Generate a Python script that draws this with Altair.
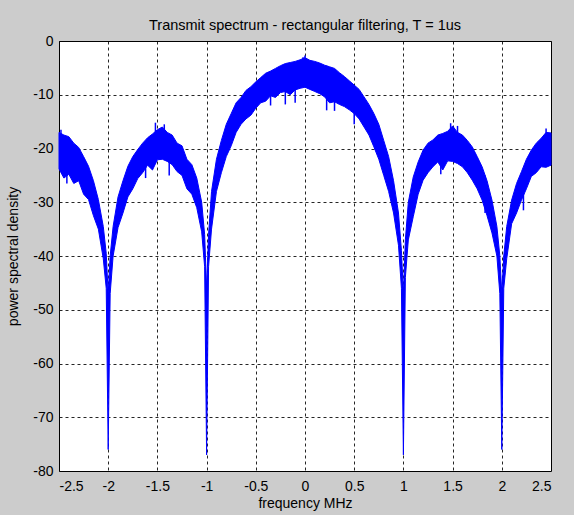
import altair as alt
import pandas as pd

# Envelope of the noisy spectrum (MHz, dB)
freq = [-2.50, -2.45, -2.40, -2.35, -2.30, -2.25, -2.20, -2.15, -2.10, -2.05, -2.02, -2.00,
        -1.98, -1.95, -1.90, -1.85, -1.80, -1.75, -1.70, -1.65, -1.60, -1.55, -1.50, -1.45,
        -1.40, -1.35, -1.30, -1.25, -1.20, -1.15, -1.10, -1.05, -1.02, -1.00,
        -0.98, -0.95, -0.90, -0.85, -0.80, -0.75, -0.70, -0.65, -0.60, -0.55, -0.50, -0.45,
        -0.40, -0.35, -0.30, -0.25, -0.20, -0.15, -0.10, -0.05, 0.00,
        0.05, 0.10, 0.15, 0.20, 0.25, 0.30, 0.35, 0.40, 0.45, 0.50, 0.55, 0.60, 0.65,
        0.70, 0.75, 0.80, 0.85, 0.90, 0.95, 0.98, 1.00,
        1.02, 1.05, 1.10, 1.15, 1.20, 1.25, 1.30, 1.35, 1.40, 1.45, 1.50, 1.55, 1.60,
        1.65, 1.70, 1.75, 1.80, 1.85, 1.90, 1.95, 1.98, 2.00,
        2.02, 2.05, 2.10, 2.15, 2.20, 2.25, 2.30, 2.35, 2.40, 2.45, 2.50]

upper = [-17.0, -17.5, -17.8, -19.0, -19.8, -21.5, -23.3, -26.0, -29.5, -34.5, -39.5, -47.0,
         -40.0, -34.5, -29.0, -26.0, -23.3, -21.5, -20.2, -19.0, -18.0, -17.3, -16.5, -16.0,
         -17.0, -17.5, -19.0, -19.5, -22.0, -23.0, -25.5, -30.0, -36.0, -46.0,
         -36.0, -28.0, -22.0, -18.5, -15.5, -13.5, -11.5, -10.5, -9.2, -8.5, -7.6, -6.8,
         -6.0, -5.6, -5.1, -4.6, -4.2, -4.0, -3.8, -3.5, -3.1,
         -3.6, -3.8, -4.1, -4.5, -4.8, -5.1, -5.9, -6.6, -7.4, -8.2, -9.0, -10.4, -11.8,
         -13.5, -15.5, -18.5, -21.5, -26.0, -32.0, -39.0, -47.0,
         -37.0, -30.0, -25.3, -22.5, -20.3, -19.0, -18.4, -17.5, -17.2, -16.8, -15.8, -17.0, -17.5,
         -18.5, -19.7, -21.5, -23.4, -26.0, -29.6, -34.5, -40.0, -47.0,
         -40.0, -34.5, -29.6, -26.5, -24.3, -22.0, -20.3, -19.0, -18.1, -17.0, -17.1]

lower = [-23.8, -25.5, -24.8, -26.5, -26.0, -28.5, -29.5, -32.5, -35.0, -40.5, -46.0, -76.0,
         -47.0, -40.0, -34.7, -32.0, -29.0, -27.5, -25.6, -24.5, -23.1, -24.0, -22.1, -22.0,
         -22.4, -23.0, -24.3, -25.0, -27.5, -28.5, -31.0, -35.5, -42.0, -77.0,
         -42.0, -35.0, -28.0, -24.5, -21.5, -19.5, -17.0, -15.5, -14.5, -13.8, -12.5, -11.5,
         -11.2, -10.2, -10.5, -9.6, -9.4, -10.0, -9.1, -8.8, -8.6,
         -9.0, -9.4, -9.8, -10.4, -11.5, -11.3, -11.8, -12.2, -12.8, -13.5, -14.5, -16.0, -17.5,
         -19.7, -22.0, -25.0, -28.0, -32.0, -38.0, -46.0, -77.0,
         -44.0, -37.0, -32.7, -28.5, -25.9, -24.5, -23.4, -22.5, -24.0, -22.3, -22.4, -22.8, -23.4,
         -24.5, -25.9, -27.5, -29.6, -32.5, -35.7, -40.0, -47.0, -76.0,
         -46.0, -40.5, -34.0, -32.0, -29.6, -27.5, -25.2, -24.5, -23.4, -23.5, -23.1]

# Prominent noise spikes
spike_freq = [-2.48, -2.42, -1.62, -1.52, -1.43, -1.38, -0.35, -0.20, -0.10, -0.02, 0.00,
              0.22, 0.30, 0.50, 1.38, 1.48, 1.55, 1.83, 2.22, 2.45]
spike_top = [-16.5, -18.5, -19.0, -15.2, -15.5, -18.5, -6.0, -4.5, -4.0, -3.0, -2.7,
             -4.6, -5.2, -8.5, -17.5, -15.3, -15.8, -25.0, -24.5, -16.3]
spike_bottom = [-20.0, -26.5, -25.5, -19.0, -19.0, -25.0, -12.0, -11.8, -11.5, -7.0, -6.0,
                -12.9, -13.0, -15.5, -24.8, -19.0, -19.5, -32.0, -31.5, -20.0]

x_ticks = [-2.5, -2, -1.5, -1, -0.5, 0, 0.5, 1, 1.5, 2, 2.5]
y_ticks = [0, -10, -20, -30, -40, -50, -60, -70, -80]

band = pd.DataFrame({"f": freq, "upper": upper, "lower": lower})
spikes = pd.DataFrame({"f": spike_freq, "top": spike_top, "bottom": spike_bottom})

BLUE = "#0000ff"

x_enc = alt.X("f:Q", scale=alt.Scale(domain=[-2.5, 2.5], nice=False, zero=False),
              axis=alt.Axis(values=x_ticks, title="frequency MHz", labelExpr="datum.value + ''",
                            grid=True, ticks=False, domain=False, labelPadding=8,
                            titlePadding=3))
y_scale = alt.Scale(domain=[-80, 0], nice=False, zero=False)
y_axis = alt.Axis(values=y_ticks, title="power spectral density", labelExpr="datum.value + ''",
                  grid=True, ticks=False, domain=False, labelPadding=6, titlePadding=12)

area = alt.Chart(band).mark_area(color=BLUE, stroke=BLUE, strokeWidth=1, opacity=1,
                                 interpolate="linear").encode(
    x=x_enc,
    y=alt.Y("lower:Q", scale=y_scale, axis=y_axis),
    y2="upper:Q",
)

spk = alt.Chart(spikes).mark_rule(color=BLUE, strokeWidth=1.5).encode(
    x="f:Q",
    y="top:Q",
    y2="bottom:Q",
)

chart = alt.layer(area, spk).properties(
    width=492,
    height=430,
    autosize="none",
    padding={"left": 59, "top": 41, "right": 23, "bottom": 44},
    title=alt.TitleParams("Transmit spectrum - rectangular filtering, T = 1us",
                          fontSize=14.5, fontWeight="normal", color="black", offset=1,
                          anchor="middle"),
).configure(
    background="#cccccc",
    font="Liberation Sans",
).configure_view(
    stroke="black", strokeWidth=1, fill="white",
).configure_axis(
    labelFontSize=14, titleFontSize=14, titleFontWeight="normal",
    labelColor="black", titleColor="black",
    gridColor="black", gridDash=[3, 3], gridWidth=1, gridOpacity=0.85,
)

chart.save("out.html", embed_options={"renderer": "svg", "actions": False})
